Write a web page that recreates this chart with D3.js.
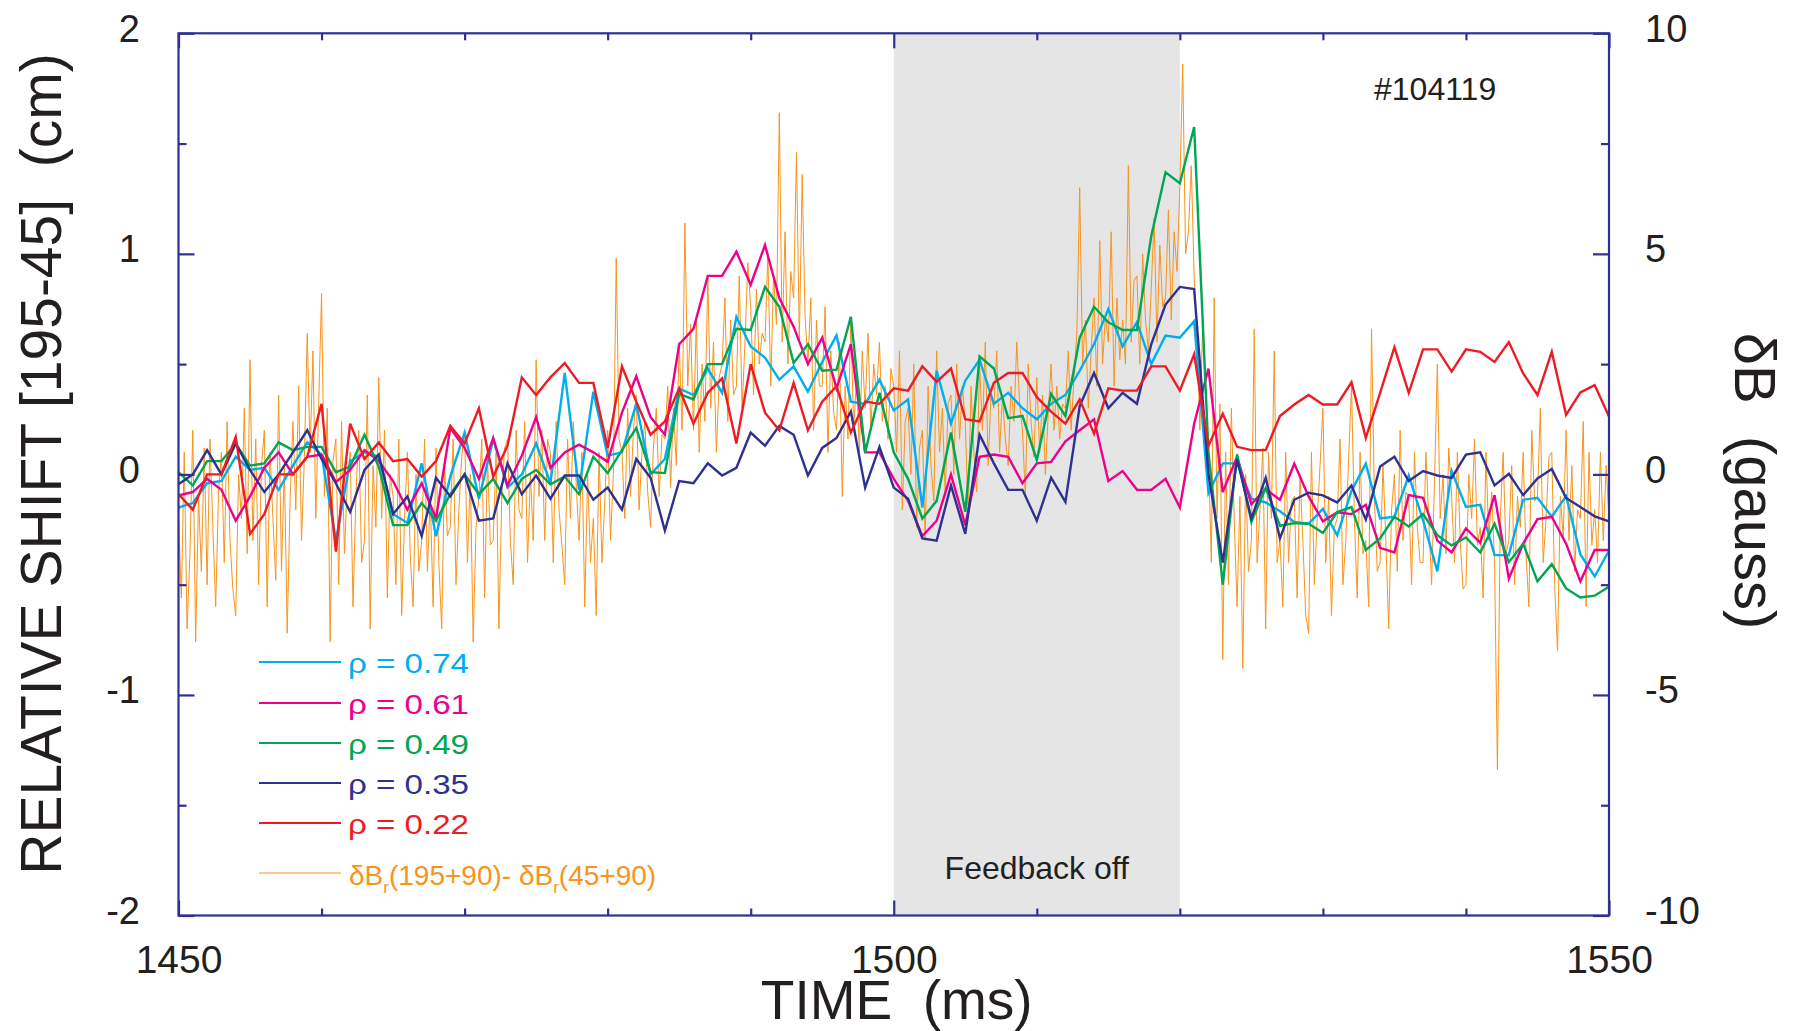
<!DOCTYPE html>
<html><head><meta charset="utf-8">
<script src="https://cdn.jsdelivr.net/npm/d3@7"></script>
<style>
body{margin:0;background:#fff}
svg{display:block}
text{font-family:"Liberation Sans",Arial,Helvetica,sans-serif;fill:#231f20}
</style>
</head><body>
<svg id="chart" width="1794" height="1031"></svg>
<script>
// ---- data ----
const timeStart = 1450;          // ms, profile series sampled every 1 ms
const orangeStep = 0.2;           // ms, magnetic probe signal sampling
const feedbackOff = [1500, 1520]; // ms

const rho074 = [-0.15,-0.13,-0.04,-0.03,0.08,0.02,0.03,-0.07,0.04,0.145,0.09,-0.3,0.06,0.1,0.08,-0.18,-0.22,0.05,-0.28,-0.01,0.19,-0.11,0.16,-0.06,0.0,0.14,
 -0.04,0.46,-0.07,0.375,0.085,0.1,0.32,0.0,0.07,0.39,0.36,0.48,0.37,0.715,0.58,0.53,0.43,0.49,0.375,0.51,0.63,0.33,0.32,0.43,0.29,
 0.34,-0.15,0.47,0.23,0.425,0.52,0.32,0.37,0.3,0.25,0.32,0.36,0.47,0.59,0.75,0.58,0.69,0.5,0.63,0.62,0.695,-0.085,0.05,0.05,-0.11,
 -0.127,-0.167,-0.216,-0.224,-0.156,-0.276,-0.075,0.049,-0.2,-0.192,-0.005,-0.208,-0.44,0.015,-0.148,-0.138,-0.366,-0.366,-0.115,-0.106,-0.192,-0.098,-0.363,-0.463,-0.346];

const rho061 = [-0.095,-0.08,-0.02,-0.07,-0.21,-0.1,0.03,0.1,0.0,0.08,0.09,-0.035,0.02,0.11,0.06,-0.03,-0.16,-0.04,-0.2,0.21,0.12,-0.02,0.165,-0.05,0.085,0.26,
 0.03,0.1,0.135,0.1,0.057,0.28,0.445,0.26,0.18,0.59,0.66,0.9,0.9,1.01,0.86,1.04,0.8,0.67,0.5,0.62,0.39,0.59,0.1,0.1,-0.02,
 -0.12,-0.28,-0.21,0.0,-0.23,0.08,0.09,0.08,-0.04,0.05,0.057,0.15,0.2,0.25,-0.03,0.015,-0.07,-0.07,-0.02,-0.15,0.23,0.48,-0.08,0.08,-0.135,
 -0.067,-0.115,0.049,-0.1,-0.213,-0.172,-0.18,-0.138,-0.333,-0.354,-0.094,-0.106,-0.3,-0.354,-0.245,-0.31,-0.094,-0.473,-0.314,-0.203,-0.192,-0.314,-0.485,-0.343,-0.343];

const rho049 = [0.01,-0.05,0.06,0.06,0.14,0.04,0.05,0.145,0.11,0.125,0.125,0.01,0.035,0.18,0.035,-0.23,-0.23,-0.13,-0.21,-0.09,0.0,-0.09,-0.02,-0.13,-0.02,0.02,
 -0.045,-0.01,-0.09,0.08,0.006,0.11,0.21,0.01,0.006,0.365,0.34,0.5,0.5,0.66,0.655,0.85,0.76,0.505,0.59,0.47,0.475,0.715,0.1,0.37,0.1,
 -0.02,-0.2,-0.12,0.19,-0.17,0.535,0.48,0.255,0.265,0.065,0.365,0.265,0.62,0.76,0.69,0.655,0.655,1.08,1.37,1.32,1.575,0.1,-0.5,0.09,-0.215,
 -0.062,-0.233,-0.221,-0.224,-0.265,-0.171,-0.148,-0.343,-0.29,-0.192,-0.236,-0.18,-0.276,-0.322,-0.286,-0.354,-0.224,-0.398,-0.314,-0.485,-0.407,-0.517,-0.558,-0.55,-0.509];

const rho035 = [-0.045,0.0,0.11,0.0,0.14,0.02,-0.08,0.0,0.1,0.2,0.07,-0.04,-0.17,0.02,0.09,-0.18,-0.1,-0.28,-0.015,-0.1,0.0,-0.21,-0.2,0.05,-0.09,-0.005,
 -0.11,-0.005,-0.005,-0.115,-0.06,-0.16,0.07,-0.015,-0.255,-0.03,-0.04,0.05,-0.005,0.03,0.19,0.13,0.22,0.18,-0.005,0.12,0.165,0.285,-0.06,0.125,-0.06,
 -0.11,-0.29,-0.3,-0.05,-0.27,0.18,0.05,-0.07,-0.07,-0.21,-0.015,-0.125,0.31,0.46,0.3,0.37,0.32,0.59,0.77,0.85,0.84,0.0,-0.4,0.07,-0.2,
 -0.015,-0.29,-0.115,-0.083,-0.095,-0.127,-0.05,-0.205,0.036,0.08,-0.03,0.015,-0.005,-0.016,0.09,0.1,-0.05,0.003,-0.094,-0.018,0.024,-0.107,-0.148,-0.19,-0.213];

const rho022 = [-0.09,-0.16,0.0,0.0,0.17,-0.27,-0.18,0.0,0.0,0.08,0.32,-0.35,0.23,0.07,0.145,0.06,0.07,-0.01,0.06,0.22,0.14,0.3,-0.01,0.13,0.44,0.36,
 0.44,0.505,0.415,0.415,0.12,0.49,0.33,0.18,0.24,0.39,0.23,0.37,0.435,0.14,0.5,0.28,0.2,0.415,0.2,0.33,0.4,0.19,0.33,0.32,0.39,
 0.38,0.49,0.42,0.48,0.25,0.24,0.415,0.46,0.46,0.35,0.285,0.23,0.34,0.185,0.39,0.38,0.38,0.49,0.49,0.38,0.545,0.13,0.275,0.125,0.11,
 0.11,0.265,0.317,0.36,0.317,0.317,0.418,0.166,0.37,0.577,0.37,0.567,0.567,0.466,0.567,0.556,0.51,0.6,0.458,0.36,0.556,0.27,0.372,0.405,0.263];

// δBr(195+90)-δBr(45+90), gauss, every 0.2 ms from 1450 ms
const deltaBr = [
 -1.0,-2.8,0.5,-3.5,-1.8, 1.0,-3.8,-0.5,-2.2,0.6, -2.5,0.8,-1.2,-3.0,-0.4, 0.5,-2.0,1.2,-1.5,-2.6, -3.2,0.0,-1.0,1.5,-1.8,
 2.6,-1.5,0.8,-2.5,0.2, 1.0,-3.0,0.5,-1.0,-2.4, 1.8,-2.2,0.2,-3.6,-0.6, 1.2,-0.8,2.0,-1.5,0.4, 3.2,0.5,2.8,-1.0,1.6,
 4.1,-0.5,1.5,-3.8,0.3, 0.8,-2.5,1.2,-1.8,-0.2, 0.5,-3.0,-0.5,1.0,-2.0, -1.5,1.8,-3.5,0.2,-1.2, 2.2,-1.0,1.0,-2.8,0.0,
 -0.5,-2.5,0.8,-3.2,-1.0, 0.5,-1.8,-3.0,0.0,-2.2, -1.5,0.8,-2.2,-0.5,-3.0, 0.6,-2.0,-3.5,0.2,-1.4, -1.2,0.8,-2.5,-0.8,0.4,
 1.0,-2.0,0.0,-3.8,-1.2, -0.5,0.8,-2.8,0.4,-1.6, -1.5,0.5,-3.5,-0.5,0.6, 0.8,-1.5,-2.5,1.0,-0.8, -1.0,1.2,-2.0,0.0,-1.5,
 2.6,-0.5,1.0,-1.5,0.8, 0.5,-2.0,1.2,-0.8,-1.6, -2.5,0.8,-1.0,1.2,-0.2, -1.5,0.5,-3.0,0.0,-2.0, -1.0,-3.2,0.5,-2.0,-0.6,
 1.0,-1.5,0.0,4.9,0.8, 0.5,-1.0,1.5,-0.5,1.0, 1.8,-0.8,0.5,1.2,-0.4, -1.2,0.6,1.5,-0.5,0.9, 0.8,2.0,-0.3,1.5,0.2,
 3.0,1.0,5.7,2.0,3.4, 1.0,3.5,0.5,2.5,1.2, 4.5,1.5,3.0,0.5,2.2, 2.5,4.0,1.2,3.5,1.8, 2.0,4.5,1.5,3.0,4.8,
 3.8,1.8,4.2,2.5,3.2, 3.0,5.0,2.0,4.5,3.4, 8.2,3.0,5.5,2.5,4.6, 4.0,7.3,3.0,6.8,3.6, 2.5,4.0,1.0,3.5,2.0,
 2.0,3.8,0.5,2.8,1.4, 1.0,3.0,-0.5,2.0,0.8, 3.5,1.0,2.2,0.5,2.8, 1.5,3.2,1.0,2.5,1.8, 3.0,1.2,2.0,0.8,2.4,
 2.0,0.5,2.8,-0.8,1.2, 1.5,0.0,2.5,-1.2,0.6, 1.0,-1.5,2.0,0.2,-0.6, 2.8,0.5,1.5,-0.5,1.6, 1.8,0.0,2.5,0.8,2.0,
 1.2,-1.0,2.0,0.5,-0.4, 2.5,1.0,3.0,0.2,1.8, 1.5,2.8,0.5,1.8,0.8, 0.2,2.0,1.2,3.0,1.6, 1.0,-0.5,2.5,1.2,0.4,
 2.2,0.5,1.8,0.0,1.4, 2.5,1.0,2.0,0.8,1.6, 1.5,2.8,1.0,2.2,3.2, 6.5,2.5,3.5,1.5,2.8, 4.0,2.0,5.3,2.5,3.6,
 3.0,5.5,2.0,4.0,2.6, 3.5,2.5,7.0,3.0,4.4, 4.5,2.5,5.0,3.5,2.8, 4.2,5.8,3.0,5.2,3.8, 4.0,6.0,3.5,5.5,4.6,
 6.5,9.3,5.0,5.5,7.0, 4.5,3.0,1.0,3.5,2.0, 0.5,-2.0,4.0,-1.0,1.6, -4.2,0.5,-2.5,1.5,-1.0, -3.0,-0.5,-4.4,0.0,-2.2,
 -1.5,3.3,-2.0,-0.8,0.6, -3.5,0.5,-1.0,2.8,-2.0, -1.5,-3.0,0.5,-2.0,-0.6, -0.5,-2.8,0.0,-1.5,-3.2, -3.6,0.5,-2.5,-1.0,0.2,
 1.5,-2.0,-0.5,-3.2,-1.2, -1.0,0.8,-2.5,-1.5,0.4, 2.0,-1.0,-2.8,0.5,-1.8, -1.5,-3.0,3.3,-0.5,-2.2, -2.0,0.2,-1.5,-3.5,-0.8,
 0.0,-2.2,1.0,-1.5,-0.4, -0.5,-2.5,0.5,-1.2,-2.0, -2.0,0.5,-1.0,-2.5,-0.2, 2.5,-1.0,0.0,-1.8,0.6, -0.5,-2.0,0.5,-1.5,-2.6,
 -2.5,0.0,-1.0,0.8,-1.6, -1.2,-2.8,0.5,-1.5,-0.4, -2.0,-6.7,-1.0,0.5,-1.8, -1.5,0.2,-2.5,-0.5,-1.2, 0.5,-1.8,-3.0,1.0,-0.6,
 -0.5,1.5,-2.0,-1.0,0.4, 0.5,-2.5,-4.0,-0.5,-1.4, 1.0,-1.5,0.2,-2.2,-0.8, -1.0,1.2,-3.0,0.5,-1.6, -0.8,-2.0,0.5,-1.5,0.2,
 -1.0];

const seriesLabels = ["ρ = 0.74", "ρ = 0.61", "ρ = 0.49", "ρ = 0.35", "ρ = 0.22"];
const seriesColors = ["#00aeef", "#ec008c", "#00a651", "#2e3192", "#ed1c24"];
const orangeColor = "#f7941d";

const xMinorTicks = [1460,1470,1480,1490,1510,1520,1530,1540];
const xMajorTicks = [1450,1500,1550];
const yLeftMinor = [-1.5,-0.5,0.5,1.5];
const yLeftMajor = [-2,-1,0,1,2];
const yRightMajor = [-10,-5,0,5,10];
const yRightMinor = [-7.5,-2.5,2.5,7.5];

// ---- layout ----
const L = 178.5, R = 1609, T = 33.3, B = 915.5;
const axisColor = "#2e3192";
const svg = d3.select("#chart");
const x = d3.scaleLinear().domain([1450, 1550]).range([L, R]);
const yL = d3.scaleLinear().domain([-2, 2]).range([B, T]);
const yR = d3.scaleLinear().domain([-10, 10]).range([B, T]);

// shaded feedback-off band
svg.append("rect")
  .attr("x", x(feedbackOff[0])).attr("y", T)
  .attr("width", x(feedbackOff[1]) - x(feedbackOff[0])).attr("height", B - T)
  .attr("fill", "#e5e5e5");

svg.append("text").attr("x", x((feedbackOff[0] + feedbackOff[1]) / 2)).attr("y", 879)
  .attr("text-anchor", "middle").attr("font-size", 32).text("Feedback off");

// orange probe signal
const orangeLine = d3.line().x((d, i) => x(timeStart + i * orangeStep)).y(d => yR(d));
svg.append("path").datum(deltaBr).attr("d", orangeLine)
  .attr("fill", "none").attr("stroke", orangeColor).attr("stroke-width", 1).attr("stroke-linejoin", "round");

// profile series
const seriesData = [rho074, rho061, rho049, rho035, rho022];
const line = d3.line().x((d, i) => x(timeStart + i)).y(d => yL(d));
seriesData.forEach((s, k) => {
  svg.append("path").datum(s).attr("d", line)
    .attr("fill", "none").attr("stroke", seriesColors[k]).attr("stroke-width", 2.4)
    .attr("stroke-linejoin", "miter");
});

// axes
function styleAxis(g) {
  g.select(".domain").remove();
  g.selectAll(".tick line").attr("stroke", axisColor).attr("stroke-width", 2.2);
  g.selectAll(".tick text").attr("fill", "#231f20").style("font-family", '"Liberation Sans",Arial,sans-serif');
}
const fmt = d => String(d);

svg.append("g").attr("transform", `translate(0,${B})`)
  .call(d3.axisBottom(x).tickValues(xMinorTicks).tickSize(-7).tickFormat(""))
  .call(styleAxis);
const xb = svg.append("g").attr("transform", `translate(0,${B})`)
  .call(d3.axisBottom(x).tickValues(xMajorTicks).tickSize(-15).tickFormat(fmt))
  .call(styleAxis);
xb.selectAll(".tick text").attr("y", 57.5).attr("dy", 0).attr("font-size", 39);

svg.append("g").attr("transform", `translate(0,${T})`)
  .call(d3.axisTop(x).tickValues(xMinorTicks).tickSize(-7).tickFormat(""))
  .call(styleAxis);
svg.append("g").attr("transform", `translate(0,${T})`)
  .call(d3.axisTop(x).tickValues(xMajorTicks).tickSize(-15).tickFormat(""))
  .call(styleAxis);

svg.append("g").attr("transform", `translate(${L},0)`)
  .call(d3.axisLeft(yL).tickValues(yLeftMinor).tickSize(-8).tickFormat(""))
  .call(styleAxis);
const yl = svg.append("g").attr("transform", `translate(${L},0)`)
  .call(d3.axisLeft(yL).tickValues(yLeftMajor).tickSize(-16).tickFormat(fmt))
  .call(styleAxis);
yl.selectAll(".tick text").attr("x", -38.5).attr("dy", 8).attr("font-size", 38).attr("dominant-baseline", "auto");

svg.append("g").attr("transform", `translate(${R},0)`)
  .call(d3.axisRight(yR).tickValues(yRightMinor).tickSize(-8).tickFormat(""))
  .call(styleAxis);
const yr = svg.append("g").attr("transform", `translate(${R},0)`)
  .call(d3.axisRight(yR).tickValues(yRightMajor).tickSize(-16).tickFormat(fmt))
  .call(styleAxis);
yr.selectAll(".tick text").attr("x", 36).attr("dy", 8).attr("font-size", 38).attr("dominant-baseline", "auto");

// frame
svg.append("rect").attr("x", L).attr("y", T).attr("width", R - L).attr("height", B - T)
  .attr("fill", "none").attr("stroke", axisColor).attr("stroke-width", 2.2);

// axis titles
svg.append("text").attr("x", x(1500) + 3).attr("y", 1019).attr("text-anchor", "middle")
  .attr("font-size", 55).style("white-space", "pre").text("TIME  (ms)");
svg.append("text").attr("transform", "translate(61,464) rotate(-90)").attr("text-anchor", "middle")
  .attr("font-size", 57).style("white-space", "pre").text("RELATIVE SHIFT [195-45]  (cm)");
svg.append("text").attr("transform", "translate(1735,481) rotate(90)").attr("text-anchor", "middle")
  .attr("font-size", 58).style("white-space", "pre").text("δB  (gauss)");

svg.append("text").attr("x", 1374).attr("y", 100).attr("font-size", 32).text("#104119");

// legend
const legY = [662, 703, 743, 783, 823];
seriesLabels.forEach((lab, k) => {
  svg.append("line").attr("x1", 259).attr("x2", 341).attr("y1", legY[k]).attr("y2", legY[k])
    .attr("stroke", seriesColors[k]).attr("stroke-width", 2.2);
  svg.append("text").attr("x", 348).attr("y", legY[k] + 11).attr("font-size", 28)
    .attr("textLength", 121).attr("lengthAdjust", "spacingAndGlyphs")
    .style("fill", seriesColors[k]).text(lab);
});
svg.append("line").attr("x1", 259).attr("x2", 341).attr("y1", 873).attr("y2", 873)
  .attr("stroke", orangeColor).attr("stroke-width", 1.2);
const ot = svg.append("text").attr("x", 349).attr("y", 885).attr("font-size", 28).style("fill", orangeColor);
ot.append("tspan").text("δB");
ot.append("tspan").attr("dy", 8).attr("font-size", 17).text("r");
ot.append("tspan").attr("dy", -8).text("(195+90)- δB");
ot.append("tspan").attr("dy", 8).attr("font-size", 17).text("r");
ot.append("tspan").attr("dy", -8).text("(45+90)");
</script>
</body></html>
